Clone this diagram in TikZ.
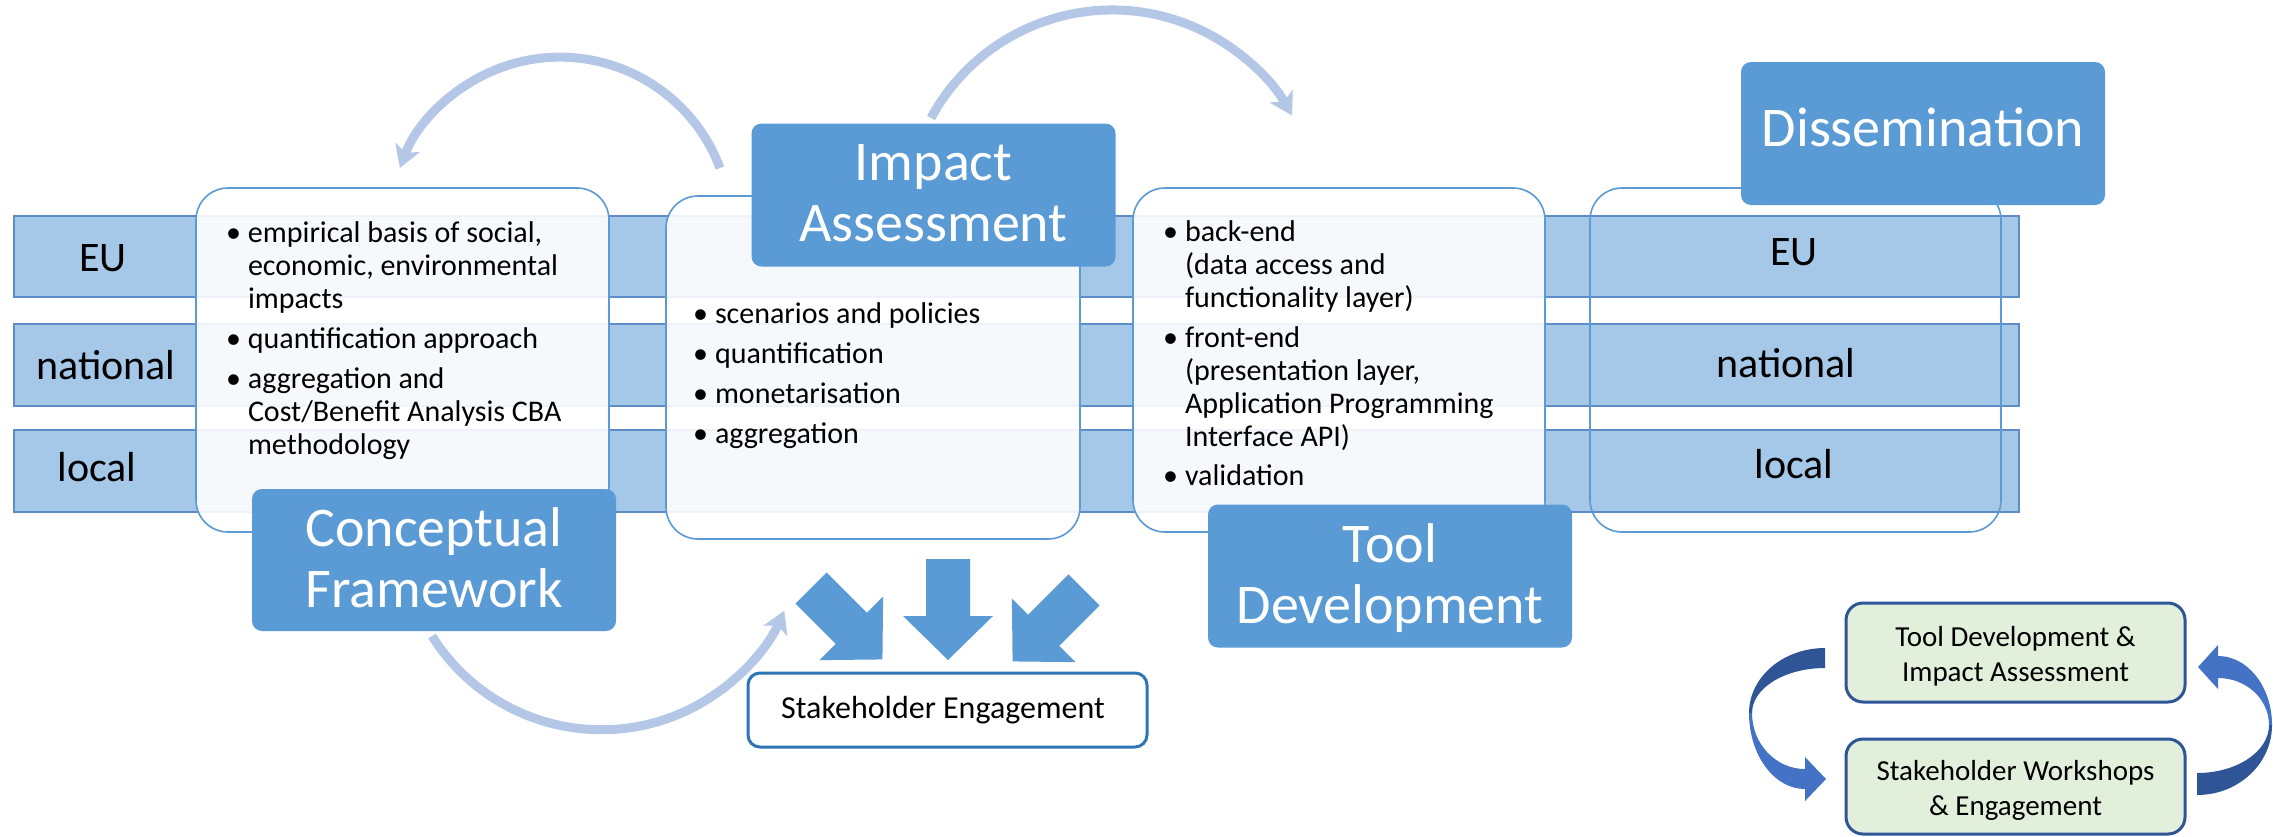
\documentclass[tikz,border=0pt]{standalone}
\usepackage{fontspec}
\setmainfont{Carlito}
\usetikzlibrary{arrows.meta}

\definecolor{bandfill}{HTML}{A6C8E8}
\definecolor{bandline}{HTML}{5D8CC6}
\definecolor{cardline}{HTML}{5B9BD5}
\definecolor{titlefill}{HTML}{5B9BD5}
\definecolor{arcblue}{HTML}{B4C7E7}
\definecolor{blockblue}{HTML}{5B9BD5}
\definecolor{sbline}{HTML}{2E75B6}
\definecolor{greenfill}{HTML}{E2EFDA}
\definecolor{greenline}{HTML}{2F5597}
\definecolor{cdark}{HTML}{2F5597}
\definecolor{clight}{HTML}{4472C4}

\newcommand\cardbullet{\makebox[11pt][l]{\textbullet}}

\tikzset{
  every node/.style={inner sep=0pt, outer sep=0pt},
  band/.style={draw=bandline, line width=1pt, fill=bandfill,
    minimum width=1002.5pt, minimum height=41pt},
  card/.style={draw=cardline, line width=0.8pt, rounded corners=16pt,
    minimum width=206.5pt, minimum height=172pt},
  cardfill/.style={card, fill=white, fill opacity=0.9},
  titlebox/.style={fill=titlefill, rounded corners=5pt,
    minimum width=182pt, minimum height=71.5pt},
  titletext/.style={text=white, font=\fontsize{28}{30.5}\selectfont, anchor=base},
  leveltext/.style={font=\fontsize{21}{25}\selectfont, anchor=base},
  bullettext/.style={font=\fontsize{15}{16.5}\selectfont, anchor=base west},
  arcline/.style={draw=arcblue, line width=4.5pt,
    -{Stealth[length=11pt, width=13pt, inset=3pt]}},
  sbbox/.style={draw=sbline, line width=1.5pt, fill=white, rounded corners=6pt,
    minimum width=199.5pt, minimum height=37pt},
  greenbox/.style={draw=greenline, line width=1.5pt, fill=greenfill,
    rounded corners=8.5pt, minimum width=169.5pt},
  greentext/.style={font=\fontsize{14.5}{17.5}\selectfont, anchor=base},
  pics/blockarrow/.style={code={
    \fill[blockblue] (0,-22) -- (57,-22) -- (57,-45) -- (101,0) -- (57,45)
      -- (57,22) -- (0,22) -- cycle;}}
}

\begin{document}
\begin{tikzpicture}[x=0.5pt, y=-0.5pt]
  % canvas
  \fill[white] (0,0) rectangle (2273,836);
  \useasboundingbox (0,0) rectangle (2273,836);

  % level bands
  \node[band, minimum height=40.5pt] (bandEU) at (1016.5,256.5) {};
  \node[band] (bandNat) at (1016.5,365) {};
  \node[band] (bandLoc) at (1016.5,471) {};

  % content cards
  \node[cardfill] (cardCF) at (402.5,360) {};
  \node[cardfill, minimum width=207pt, minimum height=171.5pt] (cardIA) at (873,367.5) {};
  \node[cardfill, minimum width=206pt] (cardTD) at (1339,360) {};
  \node[card, minimum width=205.5pt] (cardDS) at (1795.5,360) {};

  % title boxes
  \node[titlebox] (boxIA) at (933.5,195) {};
  \node[titlebox, minimum height=71pt] (boxCF) at (434,560) {};
  \node[titlebox] (boxTD) at (1390,576) {};
  \node[titlebox] (boxDS) at (1923,133.5) {};

  \node[titletext] (txtIA) at (933.5,180)
    {\begin{tabular}[t]{@{}c@{}}Impact\\Assessment\end{tabular}};
  \node[titletext] (txtCF) at (434,546)
    {\begin{tabular}[t]{@{}c@{}}Conceptual\\Framework\end{tabular}};
  \node[titletext] (txtTD) at (1390,562)
    {\begin{tabular}[t]{@{}c@{}}Tool\\Development\end{tabular}};
  \node[titletext] (txtDS) at (1923,146) {Dissemination};

  % level labels
  \node[leveltext] (lblEUl) at (103,271) {EU};
  \node[leveltext] (lblNatl) at (106,379) {national};
  \node[leveltext] (lblLocl) at (97,481) {local};
  \node[leveltext] (lblEUr) at (1794,265) {EU};
  \node[leveltext] (lblNatr) at (1786,377) {national};
  \node[leveltext] (lblLocr) at (1794,478) {local};

  % card contents
  \node[bullettext] (listCF) at (226,242) {%
    \begin{tabular}[t]{@{}l@{}l@{}}
      \cardbullet & empirical basis of social,\\
                  & economic, environmental\\
                  & impacts\\[3.5pt]
      \cardbullet & quantification approach\\[3.5pt]
      \cardbullet & aggregation and\\
                  & Cost/Benefit Analysis CBA\\
                  & methodology
    \end{tabular}};
  \node[bullettext] (listIA) at (693,323) {%
    \begin{tabular}[t]{@{}l@{}l@{}}
      \cardbullet & scenarios and policies\\[3.5pt]
      \cardbullet & quantification\\[3.5pt]
      \cardbullet & monetarisation\\[3.5pt]
      \cardbullet & aggregation
    \end{tabular}};
  \node[bullettext] (listTD) at (1163,241) {%
    \begin{tabular}[t]{@{}l@{}l@{}}
      \cardbullet & back-end\\
                  & (data access and\\
                  & functionality layer)\\[3.5pt]
      \cardbullet & front-end\\
                  & (presentation layer,\\
                  & Application Programming\\
                  & Interface API)\\[3pt]
      \cardbullet & validation
    \end{tabular}};

  % cycle arcs between the phases
  \coordinate (arcAfrom) at (720,168);
  \coordinate (arcBfrom) at (931,118);
  \coordinate (arcCfrom) at (432,636);
  \draw[arcline] (arcAfrom) arc[start angle=-20.6, end angle=-159.4, radius=171];
  \draw[arcline] (arcBfrom) arc[start angle=-151.6, end angle=-29.2, radius=206];
  \draw[arcline] (arcCfrom) arc[start angle=147.9, end angle=23.9, radius=200];

  % block arrows into stakeholder engagement
  \pic[rotate=-45] at (811,588) {blockarrow};
  \pic[rotate=-90] at (948,559) {blockarrow};
  \pic[rotate=-135] at (1084,590) {blockarrow};

  \node[sbbox] (boxSE) at (947.5,710) {};
  \node[font=\fontsize{16}{19}\selectfont, anchor=base] (txtSE) at (943,718)
    {Stakeholder Engagement};

  % iteration loop
  \node[greenbox, minimum height=49.5pt] (boxLoopA) at (2015.5,652.5) {};
  \node[greenbox, minimum height=47.5pt] (boxLoopB) at (2015.5,786.5) {};
  \node[greentext] (txtLoopA) at (2015.5,646)
    {\begin{tabular}[t]{@{}c@{}}Tool Development \&\\Impact Assessment\end{tabular}};
  \node[greentext] (txtLoopB) at (2015.5,780)
    {\begin{tabular}[t]{@{}c@{}}Stakeholder Workshops\\\& Engagement\end{tabular}};

  % left curved arrow (top box to bottom box)
  \fill[cdark] (1825,648) arc[start angle=-90, end angle=-180, x radius=76, y radius=65]
    -- (1752,713) arc[start angle=180, end angle=270, x radius=73, y radius=45] -- cycle;
  \fill[clight] (1749,713) arc[start angle=180, end angle=90, x radius=56, y radius=76]
    -- (1805,801) -- (1826,779) -- (1805,757) -- (1805,769)
    arc[start angle=90, end angle=180, x radius=53, y radius=56] -- cycle;

  % right curved arrow (bottom box to top box)
  \fill[cdark] (2197,795) arc[start angle=90, end angle=0, x radius=75, y radius=70]
    -- (2269,725) arc[start angle=0, end angle=90, x radius=72, y radius=48] -- cycle;
  \fill[clight] (2272,725) arc[start angle=0, end angle=-90, x radius=54, y radius=69]
    -- (2218,645) -- (2198,667) -- (2218,689) -- (2218,678)
    arc[start angle=-90, end angle=0, x radius=51, y radius=47] -- cycle;
\end{tikzpicture}
\end{document}
